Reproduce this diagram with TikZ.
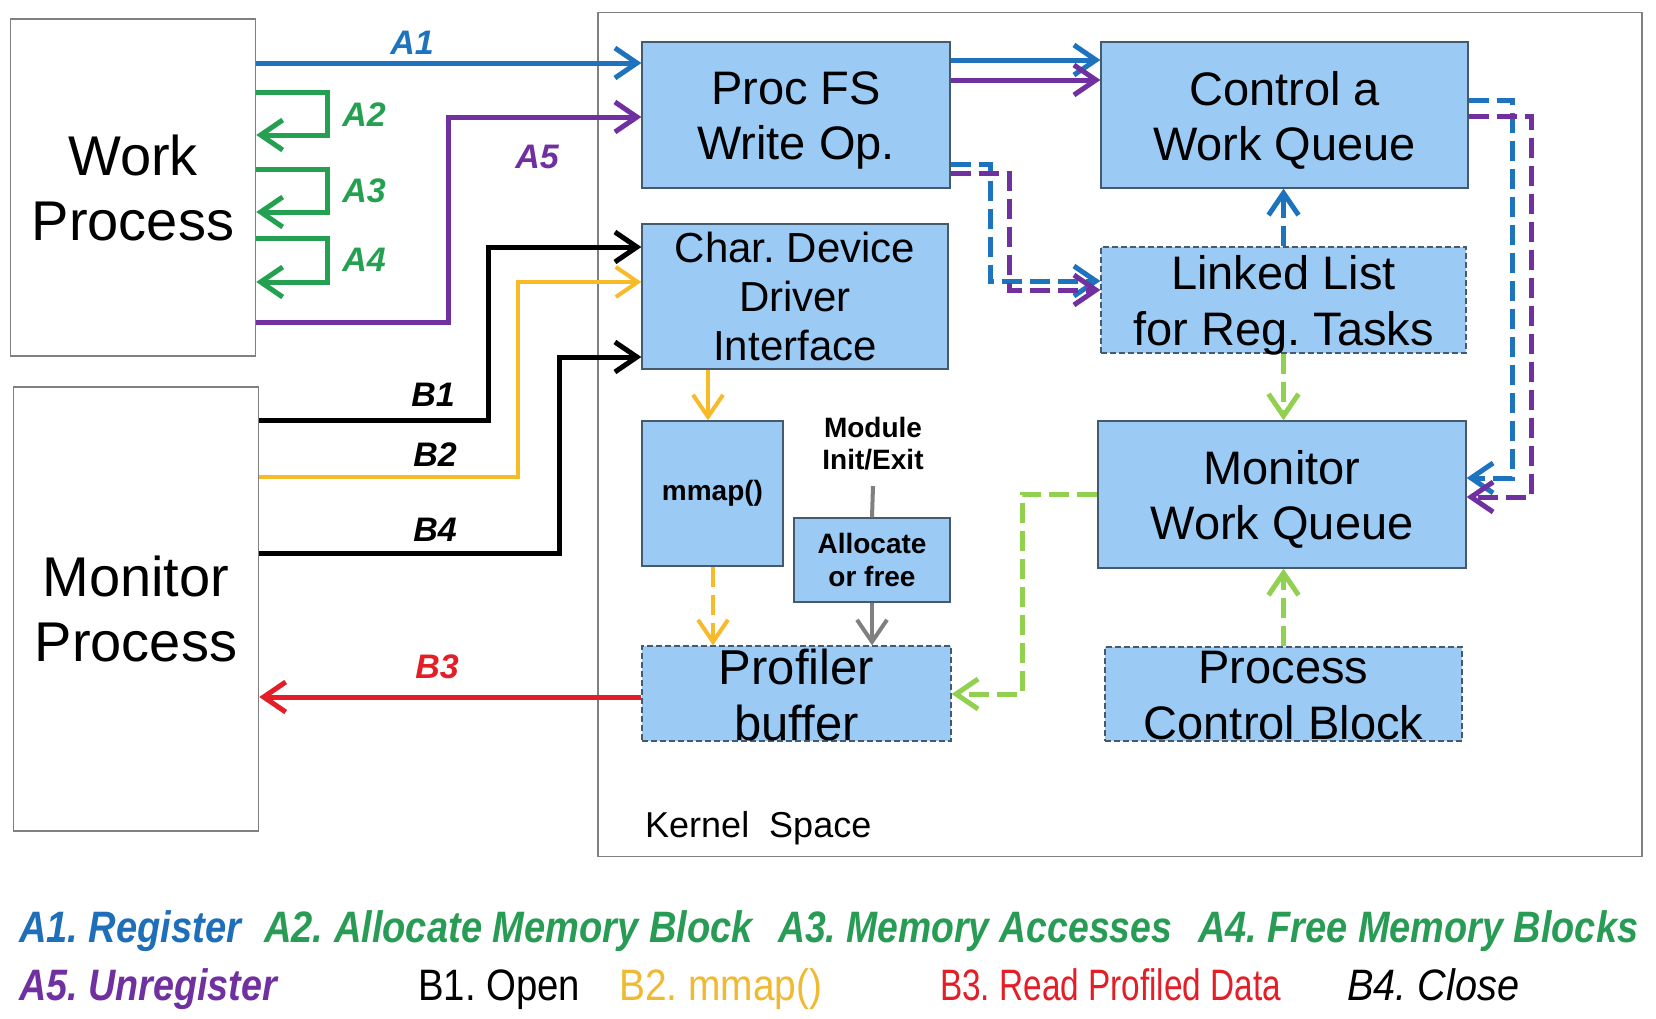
\documentclass[tikz,border=0pt]{standalone}
\usepackage{fontspec}
\usepackage{graphicx}
\setmainfont{Liberation Sans}
\usetikzlibrary{arrows.meta}
\definecolor{cblue}{RGB}{30,115,190}
\definecolor{cgreen}{RGB}{35,160,80}
\definecolor{cpurple}{RGB}{112,48,160}
\definecolor{cyellow}{RGB}{247,186,40}
\definecolor{cred}{RGB}{228,30,38}
\definecolor{clgreen}{RGB}{146,208,80}
\definecolor{cgray}{RGB}{128,128,128}
\definecolor{boxfill}{RGB}{155,203,245}
\definecolor{boxdraw}{RGB}{70,90,110}
\definecolor{legblue}{RGB}{30,110,185}
\definecolor{leggreen}{RGB}{40,155,85}
\definecolor{legyellow}{RGB}{240,185,50}
\newcommand{\legit}[2]{\resizebox{#1}{\height}{#2}}
\frenchspacing
\begin{document}
\begin{tikzpicture}[x=1pt,y=-1pt,
  proc/.style={draw=cgray,line width=1.5pt,fill=white,inner sep=0pt,align=center,font=\fontsize{56}{65}\selectfont},
  kbox/.style={draw=boxdraw,line width=1.3pt,fill=boxfill,inner sep=0pt,align=center,font=\fontsize{47}{55}\selectfont},
  dbox/.style={kbox,dash pattern=on 6pt off 3pt},
  btext/.style={inner sep=0pt,align=center,font=\fontsize{47}{55}\selectfont},
  conn/.style={line width=5pt,-{Straight Barb[length=22pt,width=30pt]}},
  dsh/.style={dash pattern=on 20pt off 8pt},
  lbl/.style={font=\fontsize{34}{40}\selectfont\bfseries\itshape,inner sep=0pt},
  legA/.style={anchor=base west,inner sep=0pt,font=\fontsize{44}{50}\selectfont\bfseries\itshape},
  legB/.style={anchor=base west,inner sep=0pt,font=\fontsize{44}{50}\selectfont},
]
\fill[white] (0,0) rectangle (1656,1018);
\useasboundingbox (0,0) rectangle (1656,1018);

% containers
\node[draw=cgray,line width=1.2pt,minimum width=1044pt,minimum height=844pt,inner sep=0pt] (kernel) at (1120,434.6) {};
\node[anchor=west,font=\fontsize{36}{40}\selectfont,inner sep=0pt] (klabel) at (645,828) {Kernel\ \ Space};
\node[proc,minimum width=245pt,minimum height=337pt] (wp) at (133,187.5) {Work\\Process};
\node[proc,minimum width=245pt,minimum height=444pt] (mp) at (136,609) {Monitor\\Process};

% kernel boxes
\node[kbox,minimum width=308pt,minimum height=146pt] (procfs) at (796,115) {};
\node[btext] (procfstext) at ([yshift=-5pt]procfs.center) {Proc FS\\Write Op.};
\node[kbox,minimum width=367pt,minimum height=146pt] (cwq) at (1284.5,115) {};
\node[btext] (cwqtext) at ([yshift=-5pt]cwq.center) {Control a\\Work Queue};
\node[kbox,minimum width=306pt,minimum height=145pt,font=\fontsize{42}{49}\selectfont] (char) at (795,296.5) {Char. Device\\Driver\\Interface};
\node[dbox,minimum width=365pt,minimum height=106pt] (ll) at (1283.5,300) {};
\node[btext,font=\fontsize{47}{56}\selectfont] (lltext) at ([yshift=-5pt]ll.center) {Linked List\\for Reg. Tasks};
\node[kbox,minimum width=141pt,minimum height=145pt,font=\fontsize{28}{32}\selectfont\bfseries] (mmap) at (712.5,493.5) {mmap()};
\node[inner sep=0pt,align=center,font=\fontsize{28}{32}\selectfont\bfseries] (mod) at (873,444) {Module\\Init/Exit};
\coordinate (modtop) at (873,486);
\node[kbox,minimum width=156pt,minimum height=84pt,font=\fontsize{28}{33}\selectfont\bfseries] (alloc) at (872,560) {Allocate\\or free};
\node[dbox,minimum width=309pt,minimum height=95pt] (pb) at (796.5,693.5) {};
\node[btext,font=\fontsize{49}{56}\selectfont] (pbtext) at (796.5,695) {Profiler\\buffer};
\node[kbox,minimum width=368pt,minimum height=147pt] (mwq) at (1282,494.5) {};
\node[btext] (mwqtext) at ([yshift=-5pt]mwq.center) {Monitor\\Work Queue};
\node[dbox,minimum width=357pt,minimum height=94pt] (pcb) at (1283.5,694) {};
\node[btext,font=\fontsize{47}{56}\selectfont] (pcbtext) at (1283.5,696) {Process\\Control Block};

% A connectors
\draw[conn,cblue] (wp.east |- 0,63) -- (procfs.west |- 0,63);
\draw[conn,cgreen] (wp.east |- 0,92) -- (327,92) -- (327,135) -- (wp.east |- 0,135);
\draw[conn,cgreen] (wp.east |- 0,169) -- (327,169) -- (327,212) -- (wp.east |- 0,212);
\draw[conn,cgreen] (wp.east |- 0,238) -- (327,238) -- (327,282) -- (wp.east |- 0,282);
\draw[conn,cpurple] (wp.east |- 0,322) -| (448,117) -- (procfs.west |- 0,117);

% B connectors
\draw[conn,black] (mp.east |- 0,420) -| (488,247) -- (char.west |- 0,247);
\draw[conn,cyellow,line width=4pt] (mp.east |- 0,477) -| (518,282) -- (char.west |- 0,282);
\draw[conn,black] (mp.east |- 0,553) -| (559,357) -- (char.west |- 0,357);
\draw[conn,cred] (pb.west |- 0,697) -- (mp.east |- 0,697);

% inside kernel
\draw[conn,cblue] (procfs.east |- 0,60) -- (cwq.west |- 0,60);
\draw[conn,cpurple] (procfs.east |- 0,80) -- (cwq.west |- 0,80);
\draw[conn,dsh,cblue] (procfs.east |- 0,164) -| (990,281) -- (ll.west |- 0,281);
\draw[conn,dsh,cpurple] (procfs.east |- 0,173) -| (1009,290) -- (ll.west |- 0,290);
\draw[conn,dsh,cblue] (ll.north) -- (ll.north |- cwq.south);
\draw[conn,dsh,clgreen] (ll.south) -- (ll.south |- mwq.north);
\draw[conn,dsh,cblue] (cwq.east |- 0,100) -| (1512,478) -- (mwq.east |- 0,478);
\draw[conn,dsh,cpurple] (cwq.east |- 0,116) -| (1531,497) -- (mwq.east |- 0,497);
\draw[conn,dsh,clgreen] (mwq.west |- 0,494) -| (1022,694) -- (pb.east |- 0,694);
\draw[conn,dsh,clgreen] (pcb.north) -- (pcb.north |- mwq.south);
\draw[conn,cyellow,line width=4pt] (char.south -| 708,0) -- (mmap.north -| 708,0);
\draw[conn,dsh,cyellow,line width=4pt] (mmap.south -| 713,0) -- (pb.north -| 713,0);
\draw[cgray,line width=4pt] (modtop) -- (alloc.north);
\draw[conn,cgray,line width=4pt] (alloc.south) -- (alloc.south |- pb.north);

% arrow labels
\node[lbl,text=cblue] (lA1) at (412,43) {A1};
\node[lbl,text=cgreen] (lA2) at (364,115) {A2};
\node[lbl,text=cgreen] (lA3) at (364,191) {A3};
\node[lbl,text=cgreen] (lA4) at (364,260) {A4};
\node[lbl,text=cpurple] (lA5) at (537,157) {A5};
\node[lbl] (lB1) at (433,395) {B1};
\node[lbl] (lB2) at (435,455) {B2};
\node[lbl] (lB4) at (435,530) {B4};
\node[lbl,text=cred] (lB3) at (437,667) {B3};

% legend
\node[legA,text=legblue] (gA1) at (19,942) {\legit{222pt}{A1. Register}};
\node[legA,text=leggreen] (gA2) at (264,942) {\legit{489pt}{A2. Allocate Memory Block}};
\node[legA,text=leggreen] (gA3) at (778,942) {\legit{394pt}{A3. Memory Accesses}};
\node[legA,text=leggreen] (gA4) at (1198,942) {\legit{440pt}{A4. Free Memory Blocks}};
\node[legA,text=cpurple] (gA5) at (19,1000) {\legit{258pt}{A5. Unregister}};
\node[legB] (gB1) at (418,1000) {\legit{162pt}{B1. Open}};
\node[legB,text=legyellow] (gB2) at (619,1000) {\legit{203pt}{B2. mmap()}};
\node[legB,text=cred] (gB3) at (940,1000) {\legit{341pt}{B3. Read Profiled Data}};
\node[legB,font=\fontsize{44}{50}\selectfont\itshape] (gB4) at (1347,1000) {\legit{172pt}{B4. Close}};
\end{tikzpicture}
\end{document}
